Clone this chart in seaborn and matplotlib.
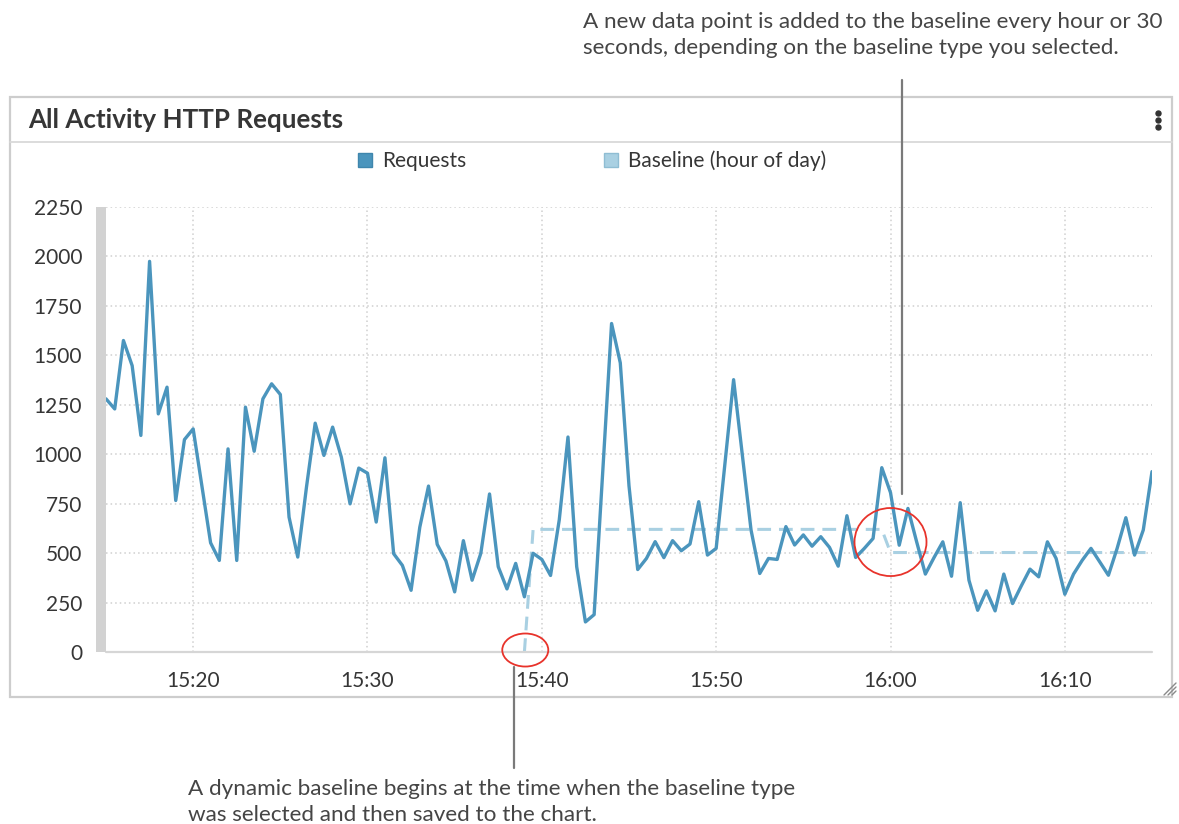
import matplotlib
matplotlib.use("Agg")
import matplotlib.pyplot as plt
import matplotlib.dates as mdates
from matplotlib.patches import Ellipse, Rectangle, Patch
from matplotlib.lines import Line2D
import pandas as pd
import seaborn as sns

# ---- data -------------------------------------------------------------
day = "2024-01-01"
start_time = "15:15:00"
end_time = "16:15:00"
sample_step = "30s"

# HTTP requests per 30-second sample, 15:15 -> 16:15
requests = [
    1280, 1229, 1575, 1448, 1095, 1975, 1204, 1339, 766, 1074,
    1128, 840, 552, 463, 1027, 463, 1238, 1015, 1280, 1356,
    1302, 682, 480, 834, 1157, 994, 1137, 985, 749, 930,
    904, 657, 982, 497, 438, 312, 631, 839, 544, 460,
    304, 563, 363, 499, 799, 431, 319, 448, 279, 499,
    468, 387, 668, 1087, 431, 152, 189, 921, 1661, 1462,
    840, 417, 473, 558, 477, 563, 512, 546, 760, 490,
    524, 950, 1377, 997, 617, 397, 473, 468, 634, 541,
    592, 535, 583, 529, 434, 689, 478, 524, 574, 932,
    806, 540, 726, 557, 394, 478, 557, 383, 755, 363,
    211, 309, 208, 394, 245, 334, 419, 380, 557, 473,
    292, 394, 464, 524, 456, 388, 524, 679, 490, 617,
    912,
]

# hour-of-day baseline: starts when it was saved, then steps each hour
baseline_times = ["15:39:00", "15:39:30", "15:59:30", "16:00:00", "16:15:00"]
baseline_values = [0, 620, 620, 503, 503]

y_ticks = [0, 250, 500, 750, 1000, 1250, 1500, 1750, 2000, 2250]
x_tick_minutes = [0, 10, 20, 30, 40, 50]

legend_labels = ["Requests", "Baseline (hour of day)"]
title = "All Activity HTTP Requests"
note_top = ["A new data point is added to the baseline every hour or 30",
            "seconds, depending on the baseline type you selected."]
note_bottom = ["A dynamic baseline begins at the time when the baseline type",
               "was selected and then saved to the chart."]

# ---- styling ----------------------------------------------------------
REQ_COLOR = "#4b95bd"
BASE_COLOR = "#a9d0e2"
GRID_COLOR = "#cfcfcf"
TEXT_COLOR = "#363636"
NOTE_COLOR = "#454545"

sns.set_style("white")
plt.rcParams["font.family"] = ["Lato", "DejaVu Sans"]

W, H = 1179, 824


def fx(px):
    return px / W


def fy(py):
    return 1 - py / H


fig = plt.figure(figsize=(W / 100, H / 100), dpi=100)
fig.patch.set_facecolor("white")

# card frame and header
fig.add_artist(Rectangle((fx(10), fy(697)), fx(1172) - fx(10), fy(97) - fy(697),
                         transform=fig.transFigure, fill=False,
                         edgecolor="#cdcdcd", linewidth=1.6))
fig.add_artist(Line2D([fx(10), fx(1172)], [fy(142), fy(142)],
                      transform=fig.transFigure, color="#d9d9d9", linewidth=1.3))
fig.text(fx(28), fy(120), title, fontsize=18.7, fontweight="bold",
         color=TEXT_COLOR, ha="left", va="center")
fig.add_artist(Line2D([fx(1158)] * 3, [fy(113), fy(120), fy(127)],
                      transform=fig.transFigure, linestyle="none", marker="o",
                      markersize=3.6, color="#333333"))
# resize grip in the lower-right corner
for d in (4, 8, 12):
    fig.add_artist(Line2D([fx(1176 - d), fx(1176)], [fy(695), fy(695 - d)],
                          transform=fig.transFigure, color="#8a8a8a", linewidth=1))

# ---- chart ------------------------------------------------------------
ax = fig.add_axes([fx(106), fy(652), fx(1152) - fx(106), fy(207) - fy(652)])

times = pd.date_range(f"{day} {start_time}", periods=len(requests), freq=sample_step)
req_df = pd.DataFrame({"time": times, "requests": requests})
base_df = pd.DataFrame({"time": pd.to_datetime([f"{day} {t}" for t in baseline_times]),
                        "baseline": baseline_values})

sns.lineplot(data=base_df, x="time", y="baseline", ax=ax, color=BASE_COLOR,
             linewidth=2.2, linestyle=(0, (4.5, 2.6)), zorder=2, legend=False)
sns.lineplot(data=req_df, x="time", y="requests", ax=ax, color=REQ_COLOR,
             linewidth=2.4, zorder=3, legend=False)

ax.set_xlim(pd.Timestamp(f"{day} {start_time}"), pd.Timestamp(f"{day} {end_time}"))
ax.set_ylim(y_ticks[0], y_ticks[-1])
ax.set_yticks(y_ticks)
ax.xaxis.set_major_locator(mdates.MinuteLocator(byminute=x_tick_minutes))
ax.xaxis.set_major_formatter(mdates.DateFormatter("%H:%M"))
ax.set_xlabel("")
ax.set_ylabel("")

ax.grid(True, linestyle=(0, (1, 2)), color=GRID_COLOR, linewidth=1.1)
ax.set_axisbelow(True)

for side in ("top", "right"):
    ax.spines[side].set_visible(False)
left = ax.spines["left"]
left.set_position(("outward", 3.6))
left.set_linewidth(7.2)
left.set_color("#d2d2d2")
left.set_capstyle("butt")
bottom = ax.spines["bottom"]
bottom.set_position(("outward", 4))
bottom.set_visible(False)
ax.axhline(0, color="#d6d6d6", linewidth=1.6, zorder=2.5, clip_on=False)

ax.tick_params(axis="y", length=10.8, width=1.6, color="#c4c4c4", pad=2.8,
               labelsize=15, labelcolor=TEXT_COLOR)
ax.tick_params(axis="x", length=4.3, width=1.6, color="#c4c4c4", pad=5.5,
               labelsize=15, labelcolor=TEXT_COLOR)

# legend
handles = [Patch(facecolor=REQ_COLOR, edgecolor="#3f86ad", label=legend_labels[0]),
           Patch(facecolor=BASE_COLOR, edgecolor="#8fbdd3", label=legend_labels[1])]
fig.legend(handles=handles, loc="center", bbox_to_anchor=(fx(592), fy(161)),
           ncol=2, frameon=False, fontsize=15, handlelength=0.68,
           handleheight=0.68, handletextpad=0.48, columnspacing=6.6,
           labelcolor=TEXT_COLOR)

# ---- callouts -----------------------------------------------------------
minute = 1 / 1440
start_mark = mdates.date2num(pd.Timestamp(f"{day} 15:39:03"))
step_mark = mdates.date2num(pd.Timestamp(f"{day} 16:00:00"))
ax.add_patch(Ellipse((start_mark, 10), 2.64 * minute, 167, fill=False,
                     edgecolor="#e8332b", linewidth=1.3, clip_on=False, zorder=5))
ax.add_patch(Ellipse((step_mark, 556), 4.13 * minute, 344, fill=False,
                     edgecolor="#e8332b", linewidth=1.3, clip_on=False, zorder=5))

fig.add_artist(Line2D([fx(902), fx(902)], [fy(80), fy(494)],
                      transform=fig.transFigure, color="#7a7a7a", linewidth=1.6))
fig.add_artist(Line2D([fx(514), fx(514)], [fy(667), fy(768)],
                      transform=fig.transFigure, color="#7a7a7a", linewidth=1.6))

for i, line in enumerate(note_top):
    fig.text(fx(583), fy(22 + 26 * i), line, fontsize=16.2, color=NOTE_COLOR,
             ha="left", va="center")
for i, line in enumerate(note_bottom):
    fig.text(fx(188), fy(789 + 26 * i), line, fontsize=16.2, color=NOTE_COLOR,
             ha="left", va="center")

fig.savefig("out.png", dpi=100, facecolor="white")
